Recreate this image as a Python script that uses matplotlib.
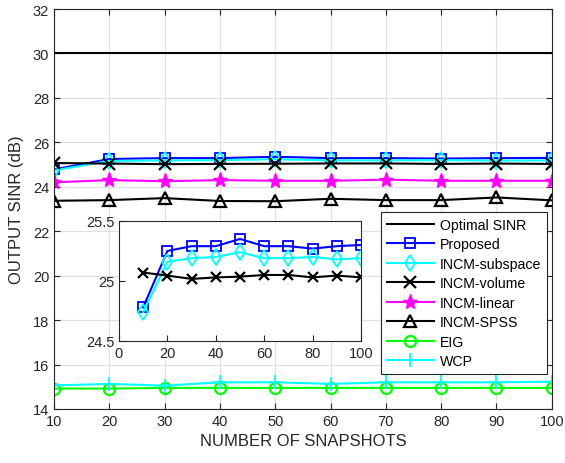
import numpy as np
import matplotlib
matplotlib.use("Agg")
import matplotlib.pyplot as plt

plt.rcParams['font.family'] = ['Liberation Sans', 'DejaVu Sans']

snapshots = [10, 20, 30, 40, 50, 60, 70, 80, 90, 100]
optimal = [30.0] * 10
proposed = [24.78, 25.25, 25.29, 25.29, 25.35, 25.29, 25.29, 25.27, 25.29, 25.30]
incm_subspace = [24.74, 25.16, 25.19, 25.20, 25.24, 25.19, 25.19, 25.20, 25.18, 25.19]
incm_volume = [25.07, 25.045, 25.017, 25.03, 25.036, 25.05, 25.05, 25.03, 25.045, 25.03]
incm_linear = [24.20, 24.30, 24.25, 24.30, 24.27, 24.27, 24.32, 24.27, 24.27, 24.27]
incm_spss = [23.37, 23.40, 23.49, 23.36, 23.35, 23.46, 23.40, 23.40, 23.52, 23.39]
eig = [14.92, 14.92, 14.95, 14.95, 14.95, 14.95, 14.95, 14.95, 14.95, 14.95]
wcp = [15.06, 15.13, 15.05, 15.20, 15.20, 15.13, 15.20, 15.20, 15.20, 15.23]

axis_gray = '#262626'
cyan = '#00ffff'
magenta = '#ff00ff'
green = '#00ff00'
lw = 1.5

fig = plt.figure(figsize=(5.65, 4.64), dpi=100)
ax = fig.add_axes([0.0956, 0.1164, 0.881, 0.862])

ax.plot(snapshots, optimal, color='k', lw=lw, label='Optimal SINR')
ax.plot(snapshots, proposed, color='b', lw=lw, marker='s', ms=7, mfc='none', mew=1.3, label='Proposed')
ax.plot(snapshots, incm_subspace, color=cyan, lw=lw, marker='d', ms=8, mfc='none', mew=1.3, label='INCM-subspace')
ax.plot(snapshots, incm_volume, color='k', lw=lw, marker='x', ms=8, mew=1.6, label='INCM-volume')
ax.plot(snapshots, incm_linear, color=magenta, lw=lw, marker='*', ms=11, label='INCM-linear')
ax.plot(snapshots, incm_spss, color='k', lw=lw, marker='^', ms=8, mfc='none', mew=1.6, label='INCM-SPSS')
ax.plot(snapshots, eig, color=green, lw=lw, marker='o', ms=8, mfc='none', mew=1.6, label='EIG')
ax.plot(snapshots, wcp, color=cyan, lw=lw, marker='+', ms=10, mew=1.3, label='WCP')

ax.set_xlim(10, 100)
ax.set_ylim(14, 32)
ax.set_xticks(range(10, 101, 10))
ax.set_yticks(range(14, 33, 2))
ax.grid(True, color='#e0e0e0', lw=0.9)
ax.set_axisbelow(True)
ax.tick_params(direction='in', top=True, right=True, labelsize=10.5, colors=axis_gray, length=4)
for s in ax.spines.values():
    s.set_color(axis_gray)
    s.set_linewidth(0.8)
ax.set_xlabel('NUMBER OF SNAPSHOTS', fontsize=12, color=axis_gray, labelpad=4)
ax.set_ylabel('OUTPUT SINR (dB)', fontsize=12, color=axis_gray, labelpad=6)

leg = ax.legend(loc='upper right', bbox_to_anchor=(0.968, 0.541), bbox_transform=fig.transFigure,
                borderaxespad=0, fontsize=10.2, handlelength=3.3, labelspacing=0.39, borderpad=0.4,
                handletextpad=0.45, fancybox=False, framealpha=1, edgecolor=axis_gray)
leg.get_frame().set_linewidth(0.8)

# zoomed view of the top three methods
ins = fig.add_axes([0.2106, 0.263, 0.4284, 0.2586])
ins.plot(snapshots, proposed, color='b', lw=lw, marker='s', ms=7, mfc='none', mew=1.3)
ins.plot(snapshots, incm_subspace, color=cyan, lw=lw, marker='d', ms=8, mfc='none', mew=1.3)
ins.plot(snapshots, incm_volume, color='k', lw=lw, marker='x', ms=7, mew=1.6)
ins.set_xlim(0, 100)
ins.set_ylim(24.5, 25.5)
ins.set_xticks(range(0, 101, 20))
ins.set_yticks([24.5, 25, 25.5])
ins.set_yticklabels(['24.5', '25', '25.5'])
ins.tick_params(direction='in', labelsize=10.5, colors=axis_gray, length=4)
for s in ins.spines.values():
    s.set_color(axis_gray)
    s.set_linewidth(0.8)

fig.savefig('out.png', dpi=100)
